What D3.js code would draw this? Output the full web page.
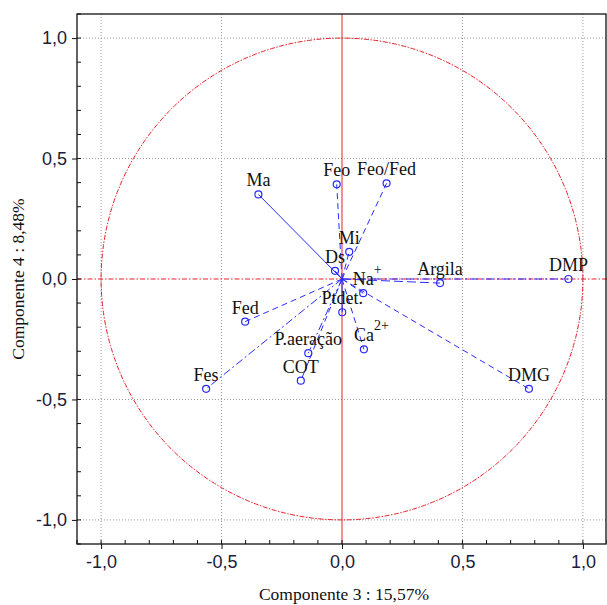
<!DOCTYPE html>
<html><head><meta charset="utf-8">
<script src="https://cdn.jsdelivr.net/npm/d3@7"></script>
<style>body{margin:0;background:#fff}svg{display:block}</style>
</head><body>
<script>
const variables = ["DMP","Argila","DMG","Feo","Feo/Fed","Ma","Mi","Ds","Na","Ptdet.","Ca","P.aeração","COT","Fed","Fes"];
const superscripts = ["","","","","","","","","+","","2+","","","",""];
const comp3 = [0.94,0.407,0.776,-0.022,0.185,-0.347,0.030,-0.029,0.088,0.001,0.091,-0.140,-0.171,-0.402,-0.564];
const comp4 = [0.0,-0.017,-0.456,0.393,0.397,0.351,0.113,0.034,-0.059,-0.138,-0.292,-0.308,-0.422,-0.177,-0.456];
const lineStyles = ["dashdot","longdash","dash","dash","dash","solid","dash","solid","dash","solid","dash","dashdot","dash","dash","dashdot"];
const majorTicks = [-1.0,-0.5,0.0,0.5,1.0];
const xTitle = "Componente 3 : 15,57%";
const yTitle = "Componente 4 : 8,48%";

const W = 607, H = 605;
const svg = d3.select("body").append("svg").attr("width", W).attr("height", H);
const x = d3.scaleLinear().domain([-1.1, 1.1]).range([77, 607]);
const y = d3.scaleLinear().domain([-1.1, 1.1]).range([544, 14]);
const fmt = v => d3.format(".1f")(v).replace(".", ",").replace("−", "-");
const dashMap = {solid: null, dash: "6,4", longdash: "9,4", dashdot: "8,3,2,3"};
const serif = "Liberation Serif, Times New Roman, serif";

// grid
const grid = svg.append("g");
majorTicks.filter(t => t !== 0).forEach(t => {
  grid.append("line").attr("x1", x(t)).attr("x2", x(t)).attr("y1", y(1.1)).attr("y2", y(-1.1))
    .attr("stroke", "#999").attr("stroke-dasharray", "1,2");
  grid.append("line").attr("y1", y(t)).attr("y2", y(t)).attr("x1", x(-1.1)).attr("x2", x(1.1))
    .attr("stroke", "#999").attr("stroke-dasharray", "1,2");
});

// unit circle
const circ = d3.line().x(d => x(Math.cos(d))).y(d => y(Math.sin(d)));
svg.append("path").datum(d3.range(0, 361).map(a => a * Math.PI / 180))
  .attr("d", circ).attr("fill", "none").attr("stroke", "#e8202a").attr("stroke-width", 1)
  .attr("stroke-dasharray", "5,1.5,1.5,1.5");

// zero lines
svg.append("line").attr("x1", x(-1.1)).attr("x2", x(1.1)).attr("y1", y(0)).attr("y2", y(0))
  .attr("stroke", "#e8202a").attr("stroke-dasharray", "5,2,1.5,2");
svg.append("line").attr("x1", x(0)).attr("x2", x(0)).attr("y1", y(1.1)).attr("y2", y(-1.1))
  .attr("stroke", "#e8202a").attr("stroke-width", 1);

// vectors
const data = variables.map((v, i) => ({name: v, sup: superscripts[i], cx: comp3[i], cy: comp4[i], style: lineStyles[i]}));
const vg = svg.append("g");
vg.selectAll("line.vec").data(data).join("line").attr("class", "vec")
  .attr("x1", x(0)).attr("y1", y(0)).attr("x2", d => x(d.cx)).attr("y2", d => y(d.cy))
  .attr("stroke", "#2a2aff").attr("stroke-width", 1)
  .attr("stroke-dasharray", d => dashMap[d.style]);
vg.selectAll("circle").data(data).join("circle")
  .attr("cx", d => x(d.cx)).attr("cy", d => y(d.cy)).attr("r", 3.5)
  .attr("fill", "none").attr("stroke", "#2a2aff").attr("stroke-width", 1.2);
vg.selectAll("text.lbl").data(data).join("text").attr("class", "lbl")
  .attr("x", d => x(d.cx)).attr("y", d => y(d.cy) - 8)
  .attr("text-anchor", "middle")
  .attr("font-family", serif).attr("font-size", 18).attr("fill", "#111")
  .text(d => d.name)
  .each(function(d) {
    if (!d.sup) return;
    const w = this.getComputedTextLength();
    vg.append("text").attr("x", x(d.cx) + w / 2).attr("y", y(d.cy) - 19)
      .attr("font-family", serif).attr("font-size", 14).attr("fill", "#111").text(d.sup);
  });

// frame
svg.append("rect").attr("x", x(-1.1)).attr("y", y(1.1)).attr("width", x(1.1) - x(-1.1) - 1)
  .attr("height", y(-1.1) - y(1.1)).attr("fill", "none").attr("stroke", "#111").attr("stroke-width", 1.3);

// axes
const minor = d3.range(-11, 12).map(v => v / 10);
const xAxis = svg.append("g").attr("transform", `translate(0,${y(-1.1)})`)
  .call(d3.axisBottom(x).tickValues(majorTicks).tickFormat(fmt).tickSize(5).tickPadding(6));
const yAxis = svg.append("g").attr("transform", `translate(${x(-1.1)},0)`)
  .call(d3.axisLeft(y).tickValues(majorTicks).tickFormat(fmt).tickSize(5).tickPadding(5));
[xAxis, yAxis].forEach(a => {
  a.select(".domain").remove();
  a.selectAll("text").attr("font-family", "Liberation Sans, Arial, sans-serif").attr("font-size", 18).attr("fill", "#1c1c3c");
  a.selectAll("line").attr("stroke", "#111");
});
const mg = svg.append("g").attr("stroke", "#111");
minor.forEach(v => {
  mg.append("line").attr("x1", x(v)).attr("x2", x(v)).attr("y1", y(-1.1)).attr("y2", y(-1.1) - 4);
  mg.append("line").attr("y1", y(v)).attr("y2", y(v)).attr("x1", x(-1.1)).attr("x2", x(-1.1) + 4);
});

// titles
svg.append("text").attr("x", 344).attr("y", 600).attr("text-anchor", "middle")
  .attr("font-family", serif).attr("font-size", 17.5).attr("fill", "#111").text(xTitle);
svg.append("text").attr("transform", `translate(24,${y(0)}) rotate(-90)`).attr("text-anchor", "middle")
  .attr("font-family", serif).attr("font-size", 17.5).attr("fill", "#111").text(yTitle);
</script>
</body></html>
